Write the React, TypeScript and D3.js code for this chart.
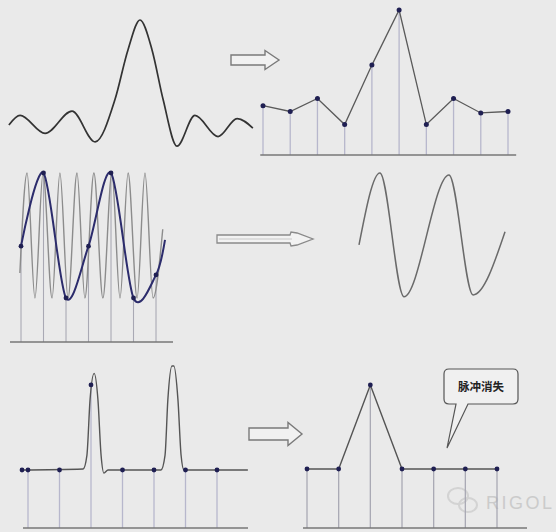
import React from "react";
import * as d3 from "d3";

// ---------- Panel 1: continuous sinc-like signal (t = time units, v = amplitude)
const sincT = [-4.82, -4.41, -3.49, -2.5, -1.65, -0.92, -0.44, 0, 0.44, 0.85, 1.36, 2.02, 2.87, 3.57, 4.15];
const sincV = [0.01, 0.1, -0.07, 0.14, -0.15, 0.25, 0.72, 1.0, 0.72, 0.25, -0.19, 0.1, -0.1, 0.07, -0.02];

// ---------- Panel 2: sampled values (sample index, amplitude)
const sampIdx = [0, 1, 2, 3, 4, 5, 6, 7, 8, 9];
const sampV = [0.34, 0.3, 0.39, 0.21, 0.62, 1.0, 0.21, 0.39, 0.29, 0.3];

// ---------- Panel 3: high-frequency signal (extrema) and aliased samples
const hfT = [-0.05, 0.27, 0.62, 0.98, 1.38, 1.73, 2.09, 2.49, 2.84, 3.24, 3.64, 4.04, 4.4, 4.76, 5.16, 5.51, 5.87, 6.3];
const hfV = [-0.6, 1, -1, 1, -1, 1, -1, 1, -1, 1, -1, 1, -1, 1, -1, 1, -1, 0.1];
const aliasT = [0, 1, 2, 3, 4, 5, 6, 6.4];
const aliasV = [-0.17, 1.0, -1.0, -0.17, 1.0, -1.0, -0.63, -0.07];
const aliasSamples = [0, 1, 2, 3, 4, 5, 6];

// ---------- Panel 4: reconstructed (aliased) wave
const recT = [0, 0.93, 2.0, 4.0, 5.07, 6.49];
const recV = [-0.15, 1.0, -0.98, 0.97, -0.95, 0.06];

// ---------- Panel 5: pulse signal and samples
const pulseT = [-0.25, 1.75, 1.87, 1.97, 2.1, 2.22, 2.32, 2.41, 2.54, 4.22, 4.35, 4.44, 4.57, 4.63, 4.76, 4.86, 4.95, 6.98];
const pulseV = [0, 0.01, 0.14, 0.67, 0.92, 0.67, 0.14, -0.03, 0, 0, 0.14, 0.67, 0.99, 0.99, 0.67, 0.14, 0, 0];
const pulseSampT = [-0.19, 0, 1, 2, 3, 4, 5, 6];
const pulseSampV = [0, 0, 0, 0.81, 0, 0, 0, 0];
const pulseStem = [false, true, true, true, true, true, true, true];

// ---------- Panel 6: samples of the pulse signal
const outIdx = [0, 1, 2, 3, 4, 5, 6];
const outV = [0, 0, 0.8, 0, 0, 0, 0];

const calloutText = "脉冲消失";
const watermarkText = "RIGOL";

const BG = "#eaeaea";
const DOT = "#1f1f52";
const STEM = "#b7b7cc";

type P = [number, number];
const zip = (a: number[], b: number[]): P[] => a.map((v, i) => [v, b[i]]);

export default function App() {
  // Panel 1 scales
  const x1 = d3.scaleLinear().domain([-5, 5]).range([4, 276]);
  const y1 = d3.scaleLinear().domain([0, 1]).range([126, 20]);
  const line1 = d3.line<P>().x(d => x1(d[0])).y(d => y1(d[1])).curve(d3.curveMonotoneX);

  // Panel 2
  const x2 = d3.scaleLinear().domain([0, 9]).range([263, 508]);
  const y2 = d3.scaleLinear().domain([0, 1]).range([155, 10]);
  const line2 = d3.line<P>().x(d => x2(d[0])).y(d => y2(d[1]));

  // Panel 3
  const x3 = d3.scaleLinear().domain([0, 6]).range([21, 156]);
  const y3 = d3.scaleLinear().domain([-1, 1]).range([298, 173]);
  const line3 = d3.line<P>().x(d => x3(d[0])).y(d => y3(d[1])).curve(d3.curveMonotoneX);
  const line3b = d3.line<P>().x(d => x3(d[0])).y(d => y3(d[1])).curve(d3.curveCardinal.tension(0.1));
  const base3 = 342;

  // Panel 4
  const x4 = d3.scaleLinear().domain([0, 6]).range([359, 494]);
  const y4 = d3.scaleLinear().domain([-1, 1]).range([298, 173]);
  const line4 = d3.line<P>().x(d => x4(d[0])).y(d => y4(d[1])).curve(d3.curveMonotoneX);

  // Panel 5
  const x5 = d3.scaleLinear().domain([0, 6]).range([28, 217]);
  const y5 = d3.scaleLinear().domain([0, 1]).range([470, 365]);
  const line5 = d3.line<P>().x(d => x5(d[0])).y(d => y5(d[1])).curve(d3.curveMonotoneX);
  const base5 = 528;

  // Panel 6
  const x6 = d3.scaleLinear().domain([0, 6]).range([307, 497]);
  const y6 = d3.scaleLinear().domain([0, 1]).range([469, 364]);
  const line6 = d3.line<P>().x(d => x6(d[0])).y(d => y6(d[1]));

  const arrowFat = (x0: number, x1: number, xt: number, yc: number, hs: number, hh: number) =>
    `M${x0},${yc - hs} L${x1},${yc - hs} L${x1},${yc - hh} L${xt},${yc} L${x1},${yc + hh} L${x1},${yc + hs} L${x0},${yc + hs} Z`;

  return (
    <svg width={556} height={532} style={{ position: "absolute", left: 0, top: 0, background: BG }}>
      <rect x={0} y={0} width={556} height={532} fill={BG} />

      {/* Panel 1 */}
      <path d={line1(zip(sincT, sincV)) || ""} fill="none" stroke="#333" strokeWidth={1.7} />

      {/* Arrow 1 */}
      <path d={arrowFat(231, 265, 279, 60, 5, 9.5)} fill="#f1f1f1" stroke="#7a7a7a" strokeWidth={1.4} />

      {/* Panel 2 */}
      {sampIdx.map((s, i) => (
        <line key={"s2" + i} x1={x2(s)} x2={x2(s)} y1={y2(sampV[i])} y2={y2(0)} stroke={STEM} strokeWidth={1.3} />
      ))}
      <line x1={x2(-0.1)} x2={x2(9.3)} y1={y2(0)} y2={y2(0)} stroke="#777" strokeWidth={1.5} />
      <path d={line2(zip(sampIdx, sampV)) || ""} fill="none" stroke="#5a5a5a" strokeWidth={1.3} />
      {sampIdx.map((s, i) => (
        <circle key={"d2" + i} cx={x2(s)} cy={y2(sampV[i])} r={2.5} fill={DOT} />
      ))}

      {/* Panel 3 */}
      {aliasSamples.map((s) => (
        <line key={"s3" + s} x1={x3(s)} x2={x3(s)} y1={y3(aliasV[s])} y2={base3} stroke="#a9a9b4" strokeWidth={1.1} />
      ))}
      <path d={line3(zip(hfT, hfV)) || ""} fill="none" stroke="#8c8c8c" strokeWidth={1.4} />
      <line x1={10} x2={173} y1={base3} y2={base3} stroke="#777" strokeWidth={1.4} />
      <path d={line3b(zip(aliasT, aliasV)) || ""} fill="none" stroke="#2c2c6c" strokeWidth={2} />
      {aliasSamples.map((s) => (
        <circle key={"d3" + s} cx={x3(s)} cy={y3(aliasV[s])} r={2.4} fill={DOT} />
      ))}

      {/* Arrow 2 */}
      <path
        d={`M217,235 L290,235 L291,232 L297,233 L313,239 L297,245 L291,246 L290,243 L217,243 Z`}
        fill="#f2f2f2"
        stroke="#8a8a8a"
        strokeWidth={1.3}
      />
      <line x1={219} x2={292} y1={239} y2={239} stroke="#c8c8c8" strokeWidth={1} />

      {/* Panel 4 */}
      <path d={line4(zip(recT, recV)) || ""} fill="none" stroke="#6a6a6a" strokeWidth={1.5} />

      {/* Panel 5 */}
      {pulseSampT.map((t, i) =>
        pulseStem[i] ? (
          <line key={"s5" + i} x1={x5(t)} x2={x5(t)} y1={y5(pulseSampV[i])} y2={base5} stroke={STEM} strokeWidth={1.3} />
        ) : null
      )}
      <line x1={23} x2={248} y1={base5} y2={base5} stroke="#777" strokeWidth={1.5} />
      <path d={line5(zip(pulseT, pulseV)) || ""} fill="none" stroke="#555" strokeWidth={1.4} />
      {pulseSampT.map((t, i) => (
        <circle key={"d5" + i} cx={x5(t)} cy={y5(pulseSampV[i])} r={2.4} fill={DOT} />
      ))}

      {/* Arrow 3 */}
      <path d={arrowFat(249, 288, 302, 434, 6, 11.5)} fill="#f1f1f1" stroke="#7a7a7a" strokeWidth={1.4} />

      {/* Watermark */}
      <g opacity={0.85}>
        <ellipse cx={458} cy={496} rx={10} ry={8} fill="none" stroke="#cfcfcf" strokeWidth={2} />
        <ellipse cx={468} cy={505} rx={9} ry={7} fill="none" stroke="#cfcfcf" strokeWidth={2} />
        <text x={486} y={509} fontFamily="Liberation Sans, Arial, sans-serif" fontSize={18} letterSpacing={2.5} fill="#c6c6c6">
          {watermarkText}
        </text>
      </g>

      {/* Panel 6 */}
      {outIdx.map((s, i) => (
        <line key={"s6" + i} x1={x6(s)} x2={x6(s)} y1={y6(outV[i])} y2={base5} stroke="#a9a9b4" strokeWidth={1.3} />
      ))}
      <line x1={303} x2={527} y1={base5} y2={base5} stroke="#777" strokeWidth={1.5} />
      <path d={line6(zip(outIdx, outV)) || ""} fill="none" stroke="#555" strokeWidth={1.4} />
      {outIdx.map((s, i) => (
        <circle key={"d6" + i} cx={x6(s)} cy={y6(outV[i])} r={2.4} fill={DOT} />
      ))}

      {/* Callout */}
      <path
        d="M449,369 L513,369 Q518,369 518,374 L518,399 Q518,404 513,404 L468,404 L447,448 L456,404 L449,404 Q444,404 444,399 L444,374 Q444,369 449,369 Z"
        fill="#f0f0f0"
        stroke="#555"
        strokeWidth={1.2}
      />
      <text
        x={481}
        y={391}
        textAnchor="middle"
        fontFamily="Noto Sans CJK SC, sans-serif"
        fontWeight="bold"
        fontSize={11.5}
        fill="#222"
      >
        {calloutText}
      </text>
    </svg>
  );
}
